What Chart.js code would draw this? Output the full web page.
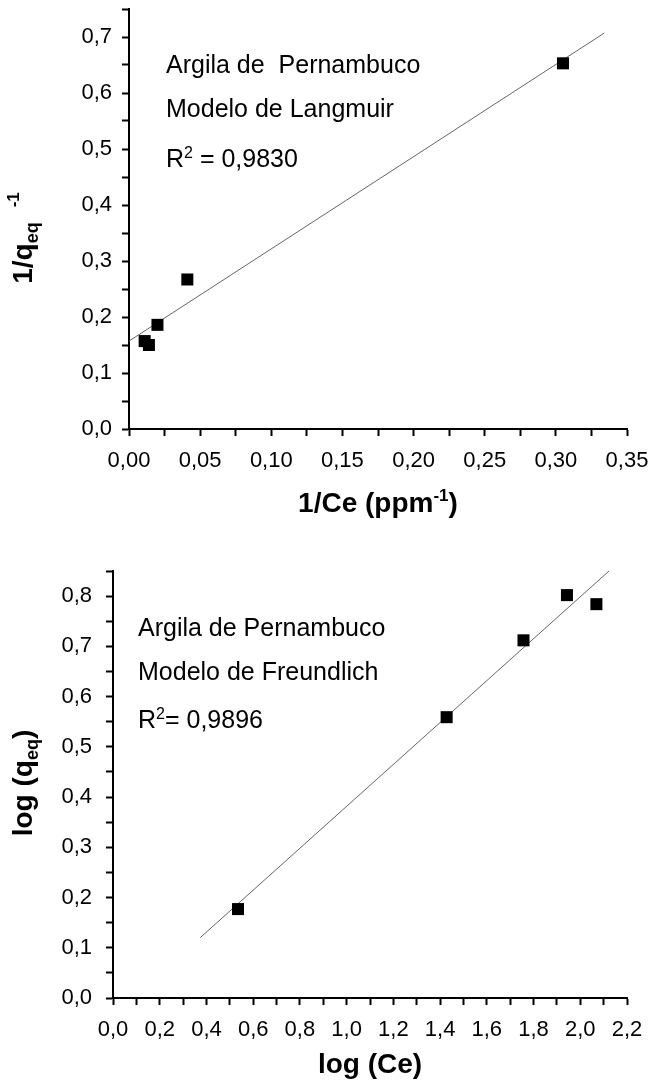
<!DOCTYPE html>
<html>
<head>
<meta charset="utf-8">
<script src="https://cdn.jsdelivr.net/npm/chart.js@4.4.1/dist/chart.umd.min.js"></script>
<style>
  html, body { margin: 0; padding: 0; background: #fff; }
  #langmuir { position: absolute; left: 0; top: 0; }
  #freundlich { position: absolute; left: 0; top: 540px; }
</style>
</head>
<body>
<canvas id="langmuir" width="648" height="520"></canvas>
<canvas id="freundlich" width="648" height="548"></canvas>
<script>
// =======================
// Données - Langmuir
// =======================
const langX = [0.011, 0.014, 0.020, 0.041, 0.305];
const langY = [0.157, 0.150, 0.186, 0.267, 0.653];
const langFitX = [0, 0.334];
const langFitY = [0.157, 0.707];

// =======================
// Données - Freundlich
// =======================
const freuX = [0.535, 1.428, 1.757, 1.943, 2.069];
const freuY = [0.177, 0.559, 0.712, 0.802, 0.784];
const freuFitX = [0.373, 2.123];
const freuFitY = [0.12, 0.85];

const FONT = "'Liberation Sans', Arial, sans-serif";

function pts(xs, ys) {
  return xs.map((x, i) => ({ x: x, y: ys[i] }));
}

// label only on the major ticks, minor ticks stay blank
function majorLabel(major, dec) {
  return function (value) {
    const r = value / major;
    if (Math.abs(r - Math.round(r)) < 1e-6) return value.toFixed(dec).replace('.', ',');
    return '';
  };
}

// text with sub/superscripts : parts = [texte, taille, gras, decalage]
function drawRich(ctx, parts, x, y, align) {
  let w = 0;
  parts.forEach(p => {
    ctx.font = (p[2] ? 'bold ' : '') + p[1] + 'px ' + FONT;
    w += ctx.measureText(p[0]).width;
  });
  let cx = align === 'center' ? x - w / 2 : x;
  parts.forEach(p => {
    ctx.font = (p[2] ? 'bold ' : '') + p[1] + 'px ' + FONT;
    ctx.fillText(p[0], cx, y + p[3]);
    cx += ctx.measureText(p[0]).width;
  });
}

function textPlugin(labels) {
  return {
    id: 'textes',
    afterDraw(chart) {
      const ctx = chart.ctx;
      ctx.save();
      ctx.fillStyle = '#000';
      ctx.textBaseline = 'alphabetic';
      ctx.textAlign = 'left';
      labels.forEach(l => {
        if (l.rotate) {
          ctx.save();
          ctx.translate(l.x, l.y);
          ctx.rotate(-Math.PI / 2);
          drawRich(ctx, l.parts, 0, 0, 'center');
          ctx.restore();
        } else {
          drawRich(ctx, l.parts, l.x, l.y, l.align || 'left');
        }
      });
      ctx.restore();
    }
  };
}

function axe(min, max, step, major, dec, pad, fitSize, horizontal) {
  return {
    type: 'linear',
    min: min,
    max: max,
    border: { color: '#000', width: 2 },
    grid: { drawOnChartArea: false, drawTicks: true, tickLength: 7, color: '#000', tickWidth: 2 },
    ticks: {
      stepSize: step,
      autoSkip: false,
      maxRotation: 0,
      padding: pad,
      color: '#000',
      font: { family: FONT, size: 22 },
      callback: majorLabel(major, dec)
    },
    afterFit: function (s) {
      // taille fixe de l'axe, pas de marge pour les labels qui debordent
      if (horizontal) s.height = fitSize; else s.width = fitSize;
      s.paddingTop = 0;
      s.paddingBottom = 0;
      s.paddingLeft = 0;
      s.paddingRight = 0;
    }
  };
}

function construire(id, xs, ys, fx, fy, xOpt, yOpt, padding, labels) {
  new Chart(document.getElementById(id), {
    type: 'scatter',
    data: {
      datasets: [
        {
          data: pts(xs, ys),
          pointStyle: 'rect',
          pointRadius: 8.5,
          backgroundColor: '#000',
          borderColor: '#000',
          borderWidth: 0
        },
        {
          data: pts(fx, fy),
          showLine: true,
          pointRadius: 0,
          borderColor: '#666',
          borderWidth: 1
        }
      ]
    },
    options: {
      responsive: false,
      animation: false,
      layout: { padding: padding },
      plugins: { legend: { display: false }, tooltip: { enabled: false } },
      scales: { x: xOpt, y: yOpt }
    },
    plugins: [textPlugin(labels)]
  });
}

// Graphique du haut : Langmuir
construire('langmuir', langX, langY, langFitX, langFitY,
  axe(0, 0.35, 0.025, 0.05, 2, 12, 91, true),
  axe(0, 0.75, 0.05, 0.1, 1, 10, 129, false),
  { left: 0, right: 21, top: 9, bottom: 0 },
  [
    { x: 166, y: 73, parts: [['Argila de  Pernambuco', 25, false, 0]] },
    { x: 166, y: 117, parts: [['Modelo de Langmuir', 25, false, 0]] },
    { x: 166, y: 167, parts: [['R', 25, false, 0], ['2', 16, false, -9], [' = 0,9830', 25, false, 0]] },
    { x: 378, y: 512, align: 'center', parts: [['1/Ce (ppm', 28, true, 0], ['-1', 17, true, -11], [')', 28, true, 0]] },
    { x: 32, y: 238, rotate: true, parts: [['1/q', 28, true, 0], ['eq', 18, true, 6], ['   ', 18, true, 0], ['-1', 17, true, -13]] }
  ]);

// Graphique du bas : Freundlich
construire('freundlich', freuX, freuY, freuFitX, freuFitY,
  axe(0, 2.2, 0.1, 0.2, 1, 12, 90, true),
  axe(0, 0.85, 0.05, 0.1, 1, 14, 113, false),
  { left: 0, right: 21, top: 31, bottom: 0 },
  [
    { x: 138, y: 96, parts: [['Argila de Pernambuco', 25, false, 0]] },
    { x: 138, y: 140, parts: [['Modelo de Freundlich', 25, false, 0]] },
    { x: 138, y: 188, parts: [['R', 25, false, 0], ['2', 16, false, -9], ['= 0,9896', 25, false, 0]] },
    { x: 370, y: 533, align: 'center', parts: [['log (Ce)', 28, true, 0]] },
    { x: 32, y: 243, rotate: true, parts: [['log (q', 28, true, 0], ['eq', 18, true, 6], [')', 28, true, 0]] }
  ]);
</script>
</body>
</html>
